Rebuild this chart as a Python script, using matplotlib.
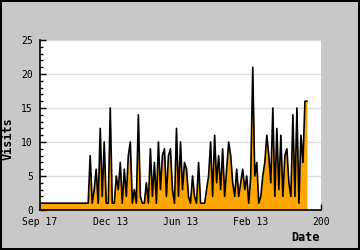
import numpy as np
import matplotlib
matplotlib.use("Agg")
import matplotlib.pyplot as plt
from matplotlib.ticker import MultipleLocator

# Visites (un point tous les deux pixels environ)
visits = [1] * 24 + [
    1, 8, 1, 3, 6, 1, 12, 2, 10, 1, 1, 15, 1, 1, 5, 3, 7, 1, 6, 2,
    8, 10, 1, 3, 1, 14, 2, 1, 1, 4, 1, 9, 2, 7, 1, 10, 3, 8, 9, 2,
    8, 9, 3, 1, 12, 2, 10, 3, 7, 6, 2, 1, 5, 2, 1, 7, 1, 1, 1, 3,
    5, 10, 2, 11, 4, 8, 3, 9, 2, 6, 10, 8, 4, 2, 6, 2, 4, 6, 3, 5,
    1, 5, 21, 5, 7, 1, 2, 5, 7, 11, 8, 4, 15, 2, 12, 3, 11, 2, 8, 9,
    4, 2, 14, 2, 15, 1, 11, 7, 16, 16,
]
tick_pos = [0, 35, 70, 105, 140]
tick_labels = ["Sep 17", "Dec 13", "Jun 13", "Feb 13", "200"]

x = np.arange(len(visits))
y = np.array(visits)

fig = plt.figure(figsize=(3.6, 2.5), dpi=100, facecolor="#c8c8c8",
                 edgecolor="black", linewidth=1.5)
ax = fig.add_axes([40 / 360, 40 / 250, 281 / 360, 170 / 250])
ax.set_facecolor("white")

ax.fill_between(x, 0, y, color="#ffa500", linewidth=0)
ax.plot(x, y, color="black", linewidth=1.2)

ax.set_xlim(0, 140)
ax.set_ylim(0, 25)
ax.yaxis.set_major_locator(MultipleLocator(5))
ax.yaxis.set_minor_locator(MultipleLocator(1))
ax.set_xticks(tick_pos)
ax.set_xticklabels(tick_labels)

for s in ["top", "right"]:
    ax.spines[s].set_visible(False)
for s in ["left", "bottom"]:
    ax.spines[s].set_linewidth(1.2)

ax.grid(axis="y", color="#dddddd", linewidth=1)
ax.set_axisbelow(True)

font = "DejaVu Sans Mono"
ax.tick_params(axis="y", which="major", direction="in", length=4, width=1,
               labelsize=7, pad=5)
ax.tick_params(axis="y", which="minor", direction="in", length=2.5, width=1)
ax.tick_params(axis="x", direction="in", length=4, width=1, labelsize=7, pad=5)
for lab in ax.get_xticklabels() + ax.get_yticklabels():
    lab.set_family(font)

ax.set_ylabel("Visits", family=font, fontweight="bold", fontsize=8.5)
ax.yaxis.set_label_coords(-0.09, 0.42)
ax.set_xlabel("Date", family=font, fontweight="bold", fontsize=8.5)
ax.xaxis.set_label_coords(0.945, -0.125)

fig.savefig("out.png", dpi=100, facecolor=fig.get_facecolor(),
            edgecolor=fig.get_edgecolor())
